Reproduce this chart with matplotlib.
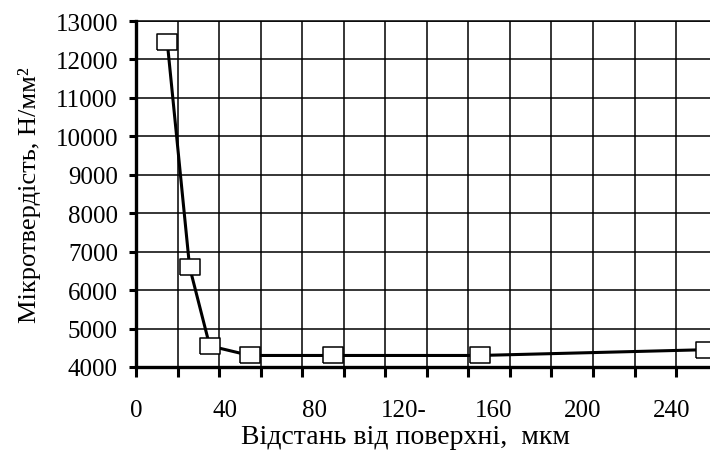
import matplotlib
matplotlib.use("Agg")
import matplotlib.pyplot as plt
import numpy as np

# Data
distance = [14, 24, 33, 51, 88, 154, 255]          # мкм
hardness = [12450, 6600, 4550, 4300, 4300, 4300, 4450]  # Н/мм²

x_label_pos = [0, 40, 80, 120, 160, 200, 240]
x_label_txt = ["0", "40", "80", "120-", "160", "200", "240"]
y_ticks = list(range(4000, 13001, 1000))

plt.rcParams["font.family"] = ["Liberation Serif", "DejaVu Serif"]

fig = plt.figure(figsize=(7.1, 4.52), dpi=100)
ax = fig.add_axes([136 / 710, 1 - 368 / 452, 574 / 710, 346 / 452])

# rectangular marker (wider than tall), white fill
rect = [(-1.25, -1), (1.25, -1), (1.25, 1), (-1.25, 1), (-1.25, -1)]
ax.plot(distance, hardness, color="black", lw=2.2,
        marker=rect, markersize=14.4, markerfacecolor="white",
        markeredgecolor="black", markeredgewidth=1.1, zorder=3)

ax.set_xlim(0, 257)
ax.set_ylim(4000, 13000)

# grid lines / tick marks every ~18.6 units, labels every 40
ax.set_xticks(np.arange(0, 257, 18.6))
ax.set_xticklabels([])
ax.set_xticks(x_label_pos, minor=True)
ax.set_xticklabels(x_label_txt, minor=True)
ax.xaxis.remove_overlapping_locs = False
ax.tick_params(axis="x", which="major", length=7, width=2.2, direction="out")
ax.tick_params(axis="x", which="minor", length=0, pad=23, labelsize=18)

ax.set_yticks(y_ticks)
ax.set_yticklabels([str(v) for v in y_ticks])
ax.tick_params(axis="y", length=5, width=2.2, pad=8, labelsize=18)

ax.grid(True, which="major", color="black", lw=1.1)
ax.set_axisbelow(True)

ax.spines["right"].set_visible(False)
ax.spines["top"].set_linewidth(1.1)
ax.spines["left"].set_linewidth(2.4)
ax.spines["bottom"].set_linewidth(2.4)

ax.set_xlabel("Відстань від поверхні,  мкм", fontsize=20)
ax.xaxis.set_label_coords(0.469, -0.165)
ax.set_ylabel("Мікротвердість, Н/мм²", fontsize=19)
ax.yaxis.set_label_coords(-0.165, 0.5)

fig.savefig("out.png", dpi=100)
